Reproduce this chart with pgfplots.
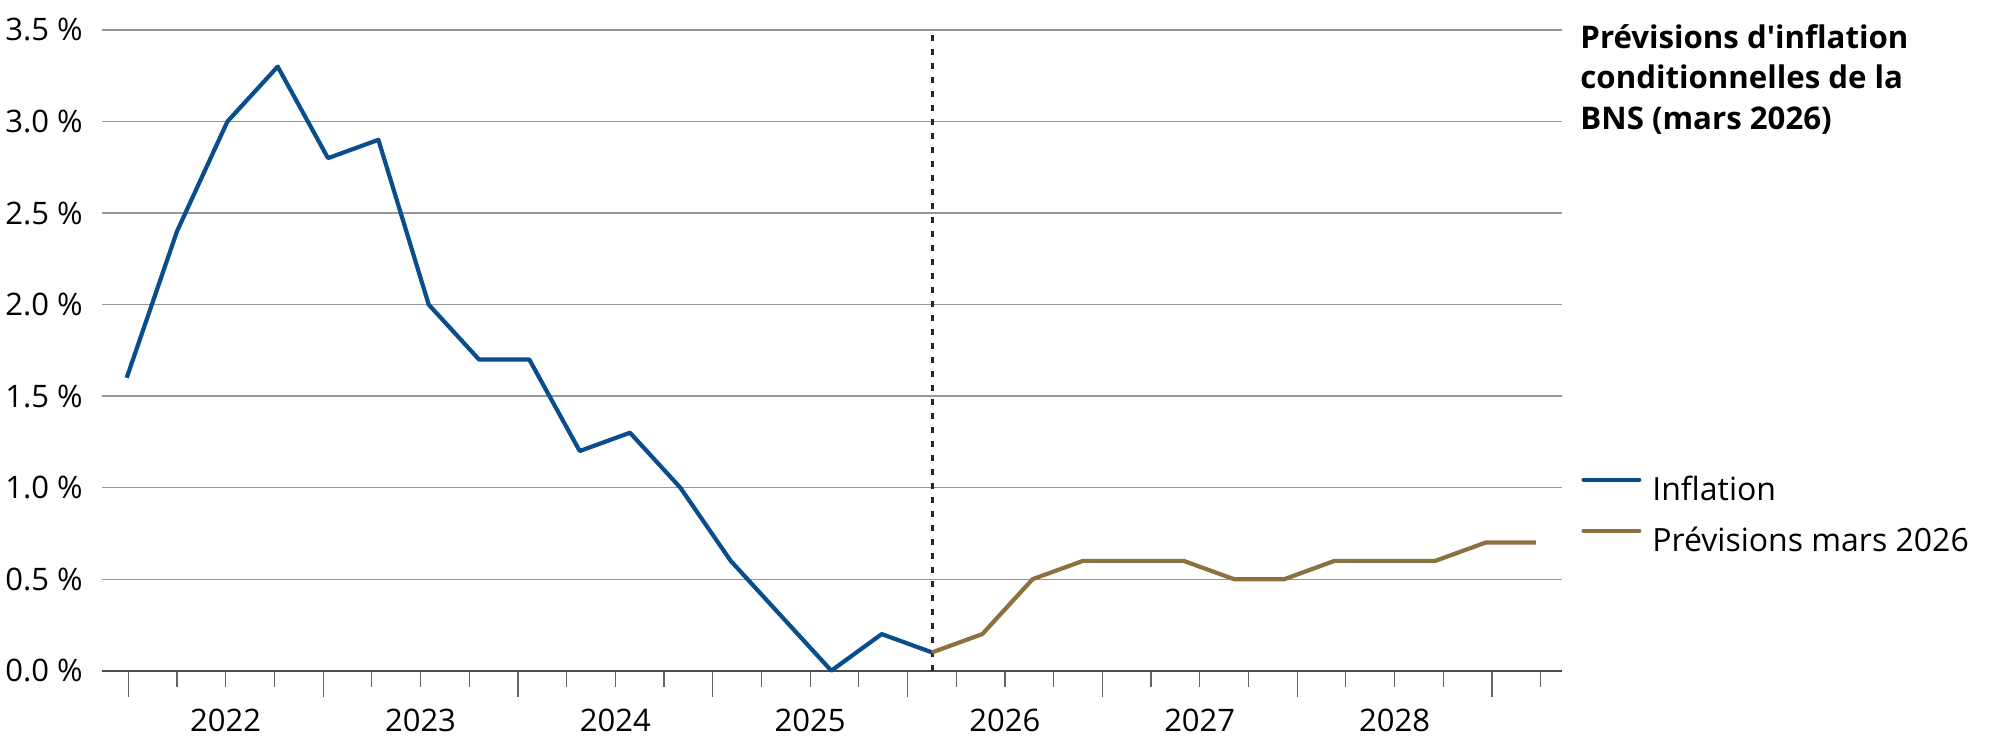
\documentclass[border=0pt]{standalone}
\usepackage{fontspec}
\setmainfont{Open Sans}[Ligatures=TeXOff]
\IfFontExistsTF{Open Sans SemiBold}{\newfontfamily\titlefont{Open Sans SemiBold}[Ligatures=TeXOff]}{\newfontfamily\titlefont{Open Sans}[Ligatures=TeXOff, UprightFont={* Bold}]}
\usepackage{pgfplots}
\usepackage{pgfplotstable}
\pgfplotsset{compat=1.18}
\definecolor{infl}{RGB}{10,77,140}
\definecolor{prev}{RGB}{140,112,62}
\definecolor{gridc}{RGB}{150,150,150}
\definecolor{axc}{RGB}{75,75,75}
\definecolor{tickc}{RGB}{100,100,100}

\pgfplotstableread{
x y
126.7 1.6
177.0 2.4
227.4 3.0
277.7 3.3
328.0 2.8
378.4 2.9
428.7 2.0
479.0 1.7
529.3 1.7
579.7 1.2
630.0 1.3
680.3 1.0
730.7 0.6
781.0 0.3
831.3 0.0
881.7 0.2
932.0 0.1
}\inflation

\pgfplotstableread{
x y
932.0 0.1
982.3 0.2
1032.6 0.5
1083.0 0.6
1133.3 0.6
1183.6 0.6
1234.0 0.5
1284.3 0.5
1334.6 0.6
1384.9 0.6
1435.3 0.6
1485.6 0.7
1535.9 0.7
}\prevision

\begin{document}
\begin{tikzpicture}
\useasboundingbox (-50.85pt,-41.15pt) rectangle (949.15pt,335.35pt);
\begin{axis}[
  scale only axis,
  width=729.9pt, height=320.35pt,
  xmin=101.7, xmax=1561.5, ymin=0, ymax=3.5,
  clip=false,
  axis x line*=bottom, axis y line*=left,
  y axis line style={draw=none},
  x axis line style={draw=axc, line width=1pt},
  ytick={0,0.5,1,1.5,2,2.5,3,3.5},
  ymajorgrids,
  grid style={gridc, line width=0.65pt},
  ytick style={draw=none},
  /pgf/number format/assume math mode=true,
  yticklabel={\pgfmathprintnumber[fixed,fixed zerofill,precision=1]{\tick}~\%},
  yticklabel style={anchor=east, inner sep=0pt, xshift=3.65pt},
  tick label style={font=\fontsize{15.5}{18}\selectfont},
  xtick={128.3,323.1,517.9,712.7,907.5,1102.3,1297.1,1491.9},
  xticklabels={},
  minor xtick={177.0,225.7,274.4,371.8,420.5,469.2,566.6,615.3,664.0,761.4,810.1,858.8,956.2,1004.9,1053.6,1151.0,1199.7,1248.4,1345.8,1394.5,1443.2,1540.6},
  tick align=outside,
  major tick length=13pt, minor tick length=8pt,
  xtick style={draw=tickc, line width=0.6pt},
  extra x ticks={225.7,420.5,615.3,810.1,1004.9,1199.7,1394.5},
  extra x tick labels={2022,2023,2024,2025,2026,2027,2028},
  extra x tick style={major tick length=0pt, xticklabel style={anchor=base, inner sep=0pt, yshift=-30.5pt}},
  legend style={at={(axis description cs:1,0.3028)}, anchor=north west, xshift=9.75pt,
    draw=none, fill=none, inner sep=0pt, row sep=14pt,
    font=\fontsize{16}{19}\selectfont,
    nodes={inner sep=0pt, text height=11.5pt, text depth=0pt},
    /tikz/every odd column/.append style={column sep=5.5pt}},
  legend cell align=left,
  legend image code/.code={\draw[#1, line width=2pt, line cap=round] (0pt,4.5pt) -- (28pt,4.5pt);},
]
\addplot[forget plot, black!85, line width=1.5pt, dash pattern=on 3pt off 4pt] coordinates {(932.0,0) (932.0,3.5)};
\addplot[infl, line width=2.1pt, line join=round] table[x=x, y=y] {\inflation};
\addlegendentry{Inflation}
\addplot[prev, line width=2.1pt, line join=round] table[x=x, y=y] {\prevision};
\addlegendentry{Prévisions mars 2026}
\end{axis}
\node[anchor=base west, inner sep=0pt, font=\titlefont\fontsize{15.6}{19}\selectfont] at (739.15pt,311.2pt) {Prévisions d'inflation};
\node[anchor=base west, inner sep=0pt, font=\titlefont\fontsize{15.6}{19}\selectfont] at (739.15pt,291.0pt) {conditionnelles de la};
\node[anchor=base west, inner sep=0pt, font=\titlefont\fontsize{15.6}{19}\selectfont] at (739.15pt,270.7pt) {BNS (mars 2026)};
\end{tikzpicture}
\end{document}
